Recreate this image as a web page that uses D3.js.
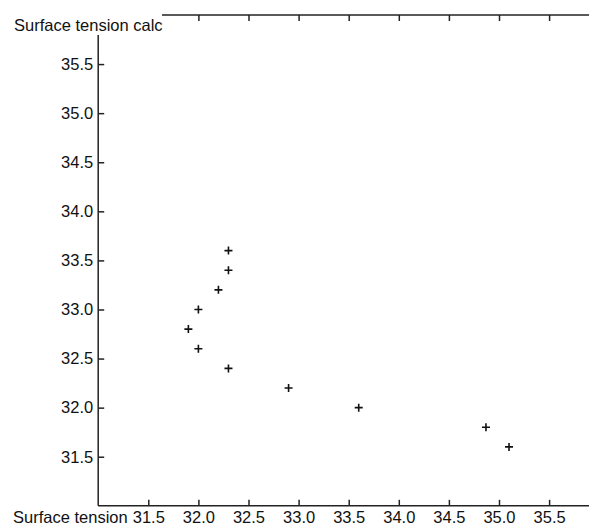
<!DOCTYPE html>
<html>
<head>
<meta charset="utf-8">
<script src="https://cdn.jsdelivr.net/npm/d3@7"></script>
<style>
  html, body { margin: 0; padding: 0; background: #fff; }
  svg { display: block; }
  text { font-family: "Liberation Sans", Arial, sans-serif; fill: #111; }
</style>
</head>
<body>
<script>
// ---- data ----
const xValues = [32.3, 32.3, 32.2, 32.0, 31.9, 32.0, 32.3, 32.9, 33.6, 34.87, 35.1];
const yValues = [33.6, 33.4, 33.2, 33.0, 32.8, 32.6, 32.4, 32.2, 32.0, 31.8, 31.6];
const xTicks = [31.5, 32.0, 32.5, 33.0, 33.5, 34.0, 34.5, 35.0, 35.5];
const yTicks = [31.5, 32.0, 32.5, 33.0, 33.5, 34.0, 34.5, 35.0, 35.5];
const topTicks = [32.0, 32.5, 33.0, 33.5, 34.0, 34.5, 35.0, 35.5];
const xTitle = "Surface tension";
const yTitle = "Surface tension calc";

const W = 589, H = 531;
const FS = 16.5;
const svg = d3.select("body").append("svg").attr("width", W).attr("height", H);

const x = d3.scaleLinear().domain([31, 36]).range([98.2, 599.2]);
const y = d3.scaleLinear().domain([31, 36]).range([505.8, 15]);

const fmt = d3.format(".1f");
const axisColor = "#222";

// bottom axis
const gx = svg.append("g").attr("transform", `translate(0,${y(31)})`)
  .call(d3.axisBottom(x).tickValues(xTicks).tickFormat(fmt).tickSizeInner(-6).tickSizeOuter(0).tickPadding(5));
gx.select(".domain").remove();
// left axis
const gy = svg.append("g").attr("transform", `translate(${x(31)},0)`)
  .call(d3.axisLeft(y).tickValues(yTicks).tickFormat(fmt).tickSizeInner(-6).tickSizeOuter(0).tickPadding(5));
gy.select(".domain").remove();
// top axis (no labels)
const gt = svg.append("g").attr("transform", `translate(0,${y(36)})`)
  .call(d3.axisTop(x).tickValues(topTicks).tickFormat("").tickSizeInner(-6).tickSizeOuter(0));
gt.select(".domain").remove();

[gx, gy, gt].forEach(g => {
  g.selectAll("line").attr("stroke", axisColor).attr("stroke-width", 1.5);
  g.selectAll("text").attr("font-size", FS).attr("font-family", "Liberation Sans, Arial, sans-serif").attr("fill", "#111");
});

// axis lines
svg.append("line").attr("x1", x(31)).attr("x2", W).attr("y1", y(31)).attr("y2", y(31))
  .attr("stroke", axisColor).attr("stroke-width", 1.5);
svg.append("line").attr("x1", x(31)).attr("x2", x(31)).attr("y1", y(31)).attr("y2", 35)
  .attr("stroke", axisColor).attr("stroke-width", 1.5);
svg.append("line").attr("x1", 162).attr("x2", W).attr("y1", y(36)).attr("y2", y(36))
  .attr("stroke", axisColor).attr("stroke-width", 1.5);

// titles
svg.append("text").attr("x", 14).attr("y", 31).attr("font-size", FS).text(yTitle);
svg.append("text").attr("x", 13).attr("y", 523).attr("font-size", FS).text(xTitle);

// points (plus markers)
const pts = xValues.map((v, i) => ({ x: v, y: yValues[i] }));
svg.append("g").selectAll("path").data(pts).enter().append("path")
  .attr("d", d => {
    const cx = x(d.x), cy = y(d.y), r = 4;
    return `M${cx - r},${cy}H${cx + r}M${cx},${cy - r}V${cy + r}`;
  })
  .attr("stroke", "#111").attr("stroke-width", 1.6).attr("fill", "none");
</script>
</body>
</html>
